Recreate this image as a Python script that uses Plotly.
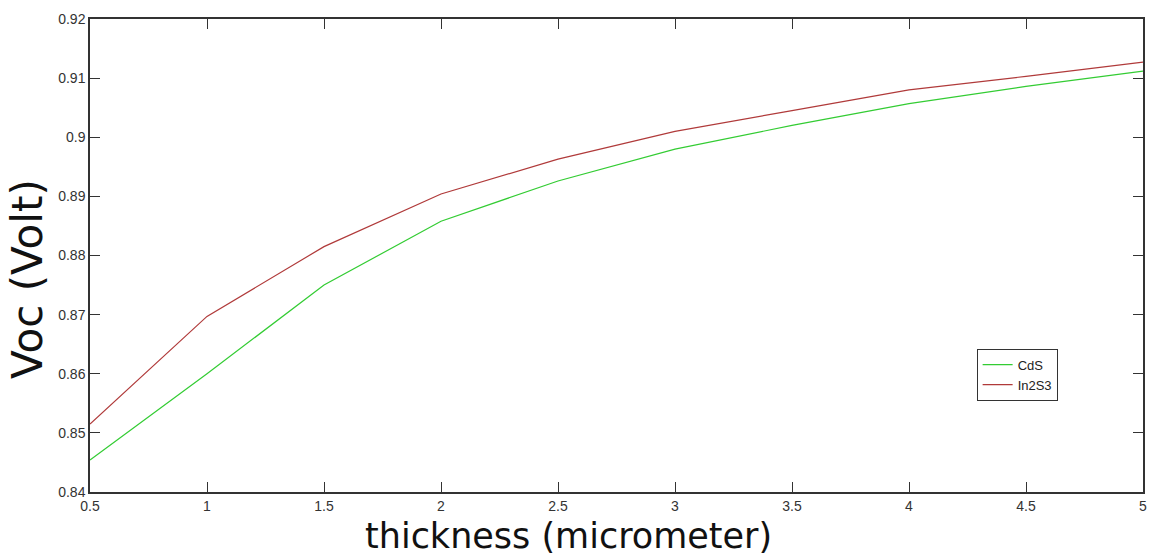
import plotly.graph_objects as go

thickness = [0.5, 1.0, 1.5, 2.0, 2.5, 3.0, 3.5, 4.0, 4.5, 5.0]
voc_cds = [0.8454, 0.8600, 0.8750, 0.8858, 0.8926, 0.8980, 0.9020, 0.9057, 0.9086, 0.9112]
voc_in2s3 = [0.8515, 0.8697, 0.8815, 0.8904, 0.8963, 0.9010, 0.9045, 0.9080, 0.9103, 0.9127]

x_ticks = [0.5, 1, 1.5, 2, 2.5, 3, 3.5, 4, 4.5, 5]
x_ticktext = ["0.5", "1", "1.5", "2", "2.5", "3", "3.5", "4", "4.5", "5"]
y_ticks = [0.84, 0.85, 0.86, 0.87, 0.88, 0.89, 0.90, 0.91, 0.92]
y_ticktext = ["0.84", "0.85", "0.86", "0.87", "0.88", "0.89", "0.9", "0.91", "0.92"]

fig = go.Figure()
fig.add_trace(go.Scatter(x=thickness, y=voc_cds, mode="lines", name="CdS",
                         line=dict(color="#33cc33", width=1.2)))
fig.add_trace(go.Scatter(x=thickness, y=voc_in2s3, mode="lines", name="In2S3",
                         line=dict(color="#b03a3a", width=1.2)))

axis_common = dict(
    showgrid=False, zeroline=False, showline=True, linecolor="#333333", linewidth=1.5,
    mirror="allticks", ticks="inside", ticklen=10, tickwidth=1, tickcolor="#333333",
    tickfont=dict(family="Liberation Sans, Arial, sans-serif", size=14, color="#333333"),
)

fig.update_layout(
    width=1158, height=556,
    margin=dict(l=90, r=11, t=15, b=64),
    paper_bgcolor="white", plot_bgcolor="white",
    xaxis=dict(range=[0.5, 5], tickvals=x_ticks, ticktext=x_ticktext, **axis_common),
    yaxis=dict(range=[0.84, 0.92], tickvals=y_ticks, ticktext=y_ticktext, **axis_common),
    legend=dict(x=0.842, y=0.193, xanchor="left", yanchor="bottom",
                bgcolor="white", bordercolor="#333333", borderwidth=1,
                font=dict(family="Liberation Sans, Arial, sans-serif", size=13, color="#222222"),
                tracegroupgap=2),
    showlegend=True,
    annotations=[
        dict(text="thickness (micrometer)", xref="paper", yref="paper",
             x=0.454, y=-0.094, xanchor="center", yanchor="middle", showarrow=False,
             font=dict(family="DejaVu Sans, sans-serif", size=35, color="#111111")),
        dict(text="Voc (Volt)", xref="paper", yref="paper", textangle=-90,
             x=-0.0596, y=0.451, xanchor="center", yanchor="middle", showarrow=False,
             font=dict(family="DejaVu Sans, sans-serif", size=42, color="#111111")),
    ],
)

fig.write_html("out.html")
